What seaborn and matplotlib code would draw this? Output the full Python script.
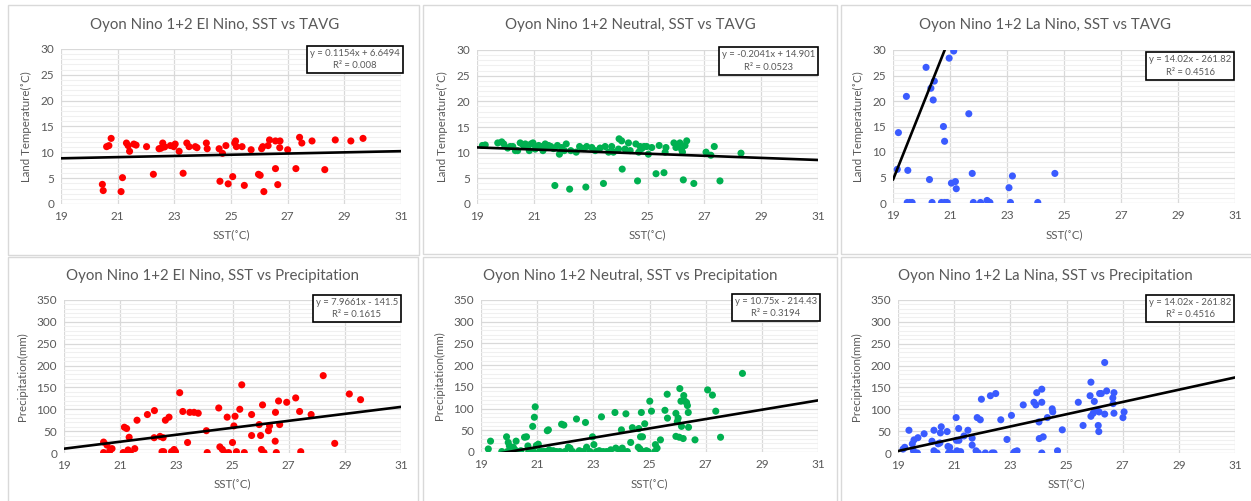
import numpy as np
import pandas as pd
import matplotlib
matplotlib.use("Agg")
import matplotlib.pyplot as plt
from matplotlib.patches import Rectangle
from matplotlib.ticker import MultipleLocator
import seaborn as sns

# ---------------- DATA ----------------
# El Nino, SST vs TAVG
elnino_tavg_sst = [20.46, 20.49, 20.61, 20.69, 20.77, 21.12, 21.17, 21.31, 21.37, 21.42, 21.57, 21.65,
                   22.02, 22.26, 22.46, 22.53, 22.59, 22.63, 22.66, 22.86, 22.98, 23.03, 23.17, 23.31,
                   23.44, 23.52, 23.74, 23.80, 24.13, 24.16, 24.58, 24.61, 24.70, 24.82, 24.90, 25.06,
                   25.13, 25.16, 25.19, 25.39, 25.47, 25.71, 25.97, 26.03, 26.08, 26.12, 26.16, 26.31,
                   26.36, 26.57, 26.57, 26.65, 26.72, 26.73, 27.00, 27.29, 27.42, 27.50, 27.86, 28.31,
                   28.68, 29.23, 29.66]
elnino_tavg_val = [3.8, 2.6, 11.1, 11.3, 12.7, 2.4, 5.1, 11.8, 11.3, 10.2, 11.6, 11.4,
                   11.1, 5.75, 10.7, 10.8, 11.8, 11.1, 11.05, 11.3, 11.1, 11.6, 10.2, 5.95,
                   11.8, 11.1, 11.1, 10.9, 11.8, 10.7, 10.7, 4.4, 9.8, 11.3, 3.9, 5.3,
                   11.8, 12.2, 11.1, 11.1, 3.6, 10.5, 5.75, 5.55, 10.7, 11.1, 2.4, 11.3,
                   12.4, 12.2, 6.85, 3.75, 10.9, 12.2, 10.5, 6.85, 12.9, 11.8, 12.2, 6.65,
                   12.4, 12.2, 12.7]

# Neutral, SST vs TAVG
neutral_tavg_sst = [19.19, 19.29, 19.73, 19.87, 19.94, 20.08, 20.17, 20.26, 20.35, 20.43, 20.52, 20.62,
                    20.70, 20.78, 20.84, 20.90, 20.97, 21.05, 21.11, 21.17, 21.25, 21.32, 21.40, 21.46,
                    21.52, 21.60, 21.69, 21.74, 21.83, 21.90, 21.98, 22.07, 22.14, 22.26, 22.30, 22.49,
                    22.61, 22.75, 22.86, 22.83, 23.04, 23.16, 23.33, 23.45, 23.51, 23.63, 23.74, 23.80,
                    23.98, 24.00, 24.09, 24.11, 24.21, 24.33, 24.39, 24.59, 24.65, 24.69, 24.74, 24.80,
                    24.88, 24.97, 25.03, 25.15, 25.30, 25.41, 25.58, 25.62, 25.65, 25.93, 26.00, 26.08,
                    26.14, 26.20, 26.26, 26.32, 26.38, 26.23, 26.63, 27.06, 27.23, 27.35, 27.55, 28.29]
neutral_tavg_val = [11.4, 11.5, 11.9, 12.1, 11.7, 10.9, 11.2, 11.2, 10.4, 10.4, 11.9, 11.5,
                    11.7, 11.2, 10.4, 11.7, 11.9, 10.7, 11.0, 11.4, 11.2, 10.4, 11.7, 11.0,
                    11.4, 11.2, 10.8, 3.6, 11.4, 9.7, 11.0, 10.4, 11.7, 2.9, 10.4, 10.1,
                    11.2, 10.8, 11.2, 3.3, 11.0, 10.4, 10.9, 4.0, 11.2, 10.1, 11.2, 10.1,
                    10.7, 12.7, 12.3, 6.8, 10.7, 11.9, 10.4, 11.7, 4.5, 10.1, 11.2, 10.8,
                    11.2, 11.2, 9.7, 11.0, 5.9, 11.4, 6.1, 10.1, 11.0, 11.9, 11.0, 11.4,
                    11.9, 10.6, 4.7, 11.4, 12.3, 10.1, 4.0, 10.1, 9.5, 11.2, 4.5, 9.9]

# La Nino, SST vs TAVG
lanina_tavg_sst = [19.15, 19.19, 19.47, 19.52, 19.50, 19.59, 19.67, 20.16, 20.28, 20.33, 20.37, 20.41,
                   20.45, 20.70, 20.77, 20.81, 20.81, 20.90, 20.97, 21.05, 21.13, 21.19, 21.22, 21.66,
                   21.78, 21.82, 22.07, 22.30, 22.36, 22.40, 23.07, 23.12, 23.19, 24.08, 24.68]
lanina_tavg_val = [6.6, 13.8, 20.9, 6.4, 0.1, 0.1, 0.1, 26.6, 4.6, 22.5, 0.1, 20.2,
                   23.9, 0.1, 15.0, 0.1, 12.1, 0.1, 28.4, 3.9, 29.8, 4.2, 2.8, 17.5,
                   5.8, 0.1, 0.1, 0.5, 0.2, 0.1, 3.0, 0.1, 5.3, 0.1, 5.8]

# El Nino, SST vs Precipitation
elnino_prcp_sst = [20.41, 20.41, 20.53, 20.63, 20.71, 21.11, 21.15, 21.23, 21.28, 21.32, 21.36, 21.52,
                   21.60, 21.97, 22.21, 22.22, 22.42, 22.49, 22.55, 22.53, 22.61, 22.74, 22.83, 22.92,
                   22.97, 23.12, 23.23, 23.40, 23.48, 23.63, 23.78, 24.07, 24.10, 24.51, 24.55, 24.64,
                   24.73, 24.81, 24.86, 25.00, 25.05, 25.09, 25.14, 25.26, 25.33, 25.42, 25.68, 25.68,
                   25.95, 26.00, 26.03, 26.07, 26.12, 26.28, 26.32, 26.52, 26.53, 26.56, 26.64, 26.68,
                   26.93, 27.25, 27.39, 27.43, 27.80, 28.23, 28.64, 29.16, 29.56]
elnino_prcp_val = [25, 1, 18, 5, 10, 1, 59, 56, 7, 36, 1, 10,
                   75, 88, 35, 97, 38, 3, 3, 35, 75, 82, 3, 8,
                   3, 138, 95, 24, 93, 93, 91, 51, 1, 103, 14, 8,
                   1, 82, 1, 24, 62, 84, 3, 100, 156, 1, 88, 40,
                   65, 40, 8, 110, 1, 51, 62, 27, 93, 1, 119, 65,
                   116, 126, 95, 3, 88, 177, 22, 135, 122]

# Neutral, SST vs Precipitation
neutral_prcp_sst = [19.26, 19.34, 19.74, 19.91, 19.94, 19.97, 20.01, 20.06, 20.10, 20.15, 20.21, 20.25,
                    20.36, 20.42, 20.55, 20.62, 20.67, 20.70, 20.84, 20.86, 20.90, 20.93, 20.97, 21.04,
                    21.08, 21.16, 21.24, 21.32, 21.36, 21.40, 21.43, 21.51, 21.57, 21.69, 21.81, 21.87,
                    21.95, 21.99, 22.11, 22.17, 22.26, 22.40, 22.50, 22.64, 22.72, 22.76, 22.88, 22.97,
                    23.02, 23.11, 23.21, 23.29, 23.35, 23.47, 23.57, 23.62, 23.77, 23.80, 23.94, 24.00,
                    24.03, 24.08, 24.16, 24.21, 24.33, 24.39, 24.60, 24.62, 24.66, 24.68, 24.71, 24.75,
                    24.80, 24.83, 24.89, 24.95, 25.01, 25.07, 25.19, 25.21, 25.27, 25.39, 25.55, 25.63,
                    25.64, 25.94, 25.94, 25.99, 26.02, 26.06, 26.08, 26.12, 26.14, 26.20, 26.22, 26.26,
                    26.32, 26.35, 26.38, 26.39, 26.62, 27.07, 27.24, 27.36, 27.53, 28.31]
neutral_prcp_val = [7, 25, 1, 35, 1, 22, 14, 9, 1, 11, 5, 25,
                    1, 3, 34, 35, 14, 1, 59, 1, 80, 104, 15, 18,
                    1, 1, 1, 1, 49, 51, 5, 1, 3, 1, 1, 64,
                    62, 1, 11, 9, 1, 76, 3, 1, 68, 11, 1, 35,
                    17, 1, 3, 81, 1, 1, 1, 5, 91, 9, 1, 51,
                    9, 1, 88, 1, 22, 56, 11, 54, 7, 35, 91, 35,
                    1, 65, 3, 1, 117, 94, 1, 17, 9, 28, 96, 133,
                    78, 89, 36, 70, 78, 34, 146, 117, 59, 31, 130, 117,
                    114, 107, 91, 57, 28, 143, 131, 94, 34, 181]

# La Nina, SST vs Precipitation
lanina_prcp_sst = [19.18, 19.24, 19.39, 19.51, 19.55, 19.57, 19.59, 19.69, 19.71, 19.93, 20.21, 20.28,
                   20.28, 20.39, 20.43, 20.49, 20.51, 20.54, 20.75, 20.78, 20.80, 20.84, 20.90, 21.07,
                   21.08, 21.10, 21.16, 21.17, 21.23, 21.35, 21.49, 21.64, 21.64, 21.78, 21.82, 21.86,
                   21.93, 21.97, 22.11, 22.29, 22.35, 22.42, 22.48, 22.66, 22.88, 23.04, 23.12, 23.16,
                   23.24, 23.46, 23.84, 23.91, 23.94, 24.02, 24.03, 24.12, 24.12, 24.12, 24.17, 24.32,
                   24.49, 24.51, 24.68, 24.85, 25.42, 25.59, 25.84, 25.87, 25.87, 25.95, 25.99, 26.07,
                   26.13, 26.15, 26.16, 26.18, 26.24, 26.36, 26.36, 26.43, 26.65, 26.66, 26.69, 26.69,
                   27.01, 27.05]
lanina_prcp_val = [9, 13, 52, 21, 5, 30, 0, 0, 35, 44, 27, 52,
                   5, 0, 21, 23, 46, 60, 49, 15, 0, 13, 0, 81,
                   29, 5, 56, 29, 3, 39, 52, 34, 18, 5, 81, 0,
                   76, 123, 0, 131, 0, 0, 136, 76, 31, 86, 0, 3,
                   5, 110, 116, 110, 138, 71, 33, 146, 116, 0, 37, 81,
                   101, 94, 5, 53, 116, 63, 131, 162, 84, 91, 118, 97,
                   63, 49, 94, 136, 136, 89, 207, 142, 126, 113, 138, 91,
                   81, 94]

titles = ["Oyon Nino 1+2 El Nino, SST vs TAVG",
          "Oyon Nino 1+2 Neutral, SST vs TAVG",
          "Oyon Nino 1+2 La Nino, SST vs TAVG",
          "Oyon Nino 1+2 El Nino, SST vs Precipitation",
          "Oyon Nino 1+2 Neutral, SST vs Precipitation",
          "Oyon Nino 1+2 La Nina, SST vs Precipitation"]
eq_labels = ["y = 0.1154x + 6.6494\nR² = 0.008",
             "y = -0.2041x + 14.901\nR² = 0.0523",
             "y = 14.02x - 261.82\nR² = 0.4516",
             "y = 7.9661x - 141.5\nR² = 0.1615",
             "y = 10.75x - 214.43\nR² = 0.3194",
             "y = 14.02x - 261.82\nR² = 0.4516"]
slopes = [0.1154, -0.2041, 14.02, 7.9661, 10.75, 14.02]
intercepts = [6.6494, 14.901, -261.82, -141.5, -214.43, -261.82]
x_ticks = [19, 21, 23, 25, 27, 29, 31]
tavg_ticks = [0, 5, 10, 15, 20, 25, 30]
prcp_ticks = [0, 50, 100, 150, 200, 250, 300, 350]
xlabel = "SST(˚C)"
ylabels = ["Land Temperature(˚C)"] * 3 + ["Precipitation(mm)"] * 3
colors = ["#FF0000", "#00B050", "#3A5BFF", "#FF0000", "#00B050", "#3A5BFF"]

series = [(elnino_tavg_sst, elnino_tavg_val), (neutral_tavg_sst, neutral_tavg_val),
          (lanina_tavg_sst, lanina_tavg_val), (elnino_prcp_sst, elnino_prcp_val),
          (neutral_prcp_sst, neutral_prcp_val), (lanina_prcp_sst, lanina_prcp_val)]

# ---------------- STYLE ----------------
sns.set_style("white")
plt.rcParams['font.family'] = ['Lato', 'DejaVu Sans']
TXT = "#595959"

W, H = 1251, 501
fig = plt.figure(figsize=(W / 100, H / 100), dpi=100)

# panel borders (pixels: x0, y0, x1, y1)
panels = [(8, 5, 419, 255), (423, 5, 837, 254), (841, 5, 1260, 254),
          (8, 257, 418, 510), (423, 257, 837, 510), (841, 257, 1260, 510)]
# plot areas (pixels: x0, ytop, x1, ybottom)
areas = [(61, 49, 401, 204), (477, 50, 818, 204), (893, 50, 1235, 203),
         (64, 300, 401, 453), (481, 300, 818, 452), (898, 300, 1235, 453)]
eq_centers = [(355, 59.5), (768.5, 61), (1190, 66), (357, 308.5), (776, 307.5), (1190, 308.5)]
title_centers = [(214.5, 25), (630, 25), (1045, 25), (213, 276), (630, 276), (1045, 276)]
xlabel_y = [235, 235, 235, 484, 484, 484]

for (x0, y0, x1, y1) in panels:
    fig.patches.append(Rectangle((x0 / W, 1 - y1 / H), (x1 - x0) / W, (y1 - y0) / H,
                                 transform=fig.transFigure, fill=False,
                                 edgecolor="#D9D9D9", linewidth=1.0))

for i in range(6):
    x0, yt, x1, yb = areas[i]
    ax = fig.add_axes([x0 / W, 1 - yb / H, (x1 - x0) / W, (yb - yt) / H])
    xs, ys = series[i]
    df = pd.DataFrame({"sst": xs, "val": ys})
    sns.scatterplot(data=df, x="sst", y="val", ax=ax, color=colors[i], s=26,
                    edgecolor="none", linewidth=0, zorder=3)
    xl = np.array([19.0, 31.0])
    sns.lineplot(x=xl, y=slopes[i] * xl + intercepts[i], ax=ax, color="black",
                 linewidth=1.9, zorder=4)

    ax.set_xlim(19, 31)
    ax.set_xticks(x_ticks)
    if i < 3:
        ax.set_ylim(0, 30)
        ax.set_yticks(tavg_ticks)
        ax.yaxis.set_minor_locator(MultipleLocator(1))
    else:
        ax.set_ylim(0, 350)
        ax.set_yticks(prcp_ticks)
        ax.yaxis.set_minor_locator(MultipleLocator(10))
    ax.grid(which="major", axis="both", color="#D9D9D9", linewidth=0.9, zorder=0)
    ax.grid(which="minor", axis="y", color="#F0F0F0", linewidth=0.8, zorder=0)
    ax.set_axisbelow(True)
    for s in ax.spines.values():
        s.set_visible(False)
    ax.tick_params(which="both", length=0, labelsize=8.5, labelcolor=TXT, pad=5)
    ax.set_xlabel("")
    ax.set_ylabel(ylabels[i], fontsize=8.3, color=TXT, labelpad=6)

    tx, ty = title_centers[i]
    fig.text(tx / W, 1 - ty / H, titles[i], ha="center", va="center",
             fontsize=10.8, color=TXT)
    fig.text(((x0 + x1) / 2) / W, 1 - xlabel_y[i] / H, xlabel, ha="center", va="center",
             fontsize=8.3, color=TXT)
    ex, ey = eq_centers[i]
    fig.text(ex / W, 1 - ey / H, eq_labels[i], ha="center", va="center", fontsize=6.8,
             color=TXT, linespacing=1.5, zorder=10,
             bbox=dict(boxstyle="square,pad=0.3", facecolor="white", edgecolor="black",
                       linewidth=1.2))

fig.savefig("out.png", dpi=100, facecolor="white")
